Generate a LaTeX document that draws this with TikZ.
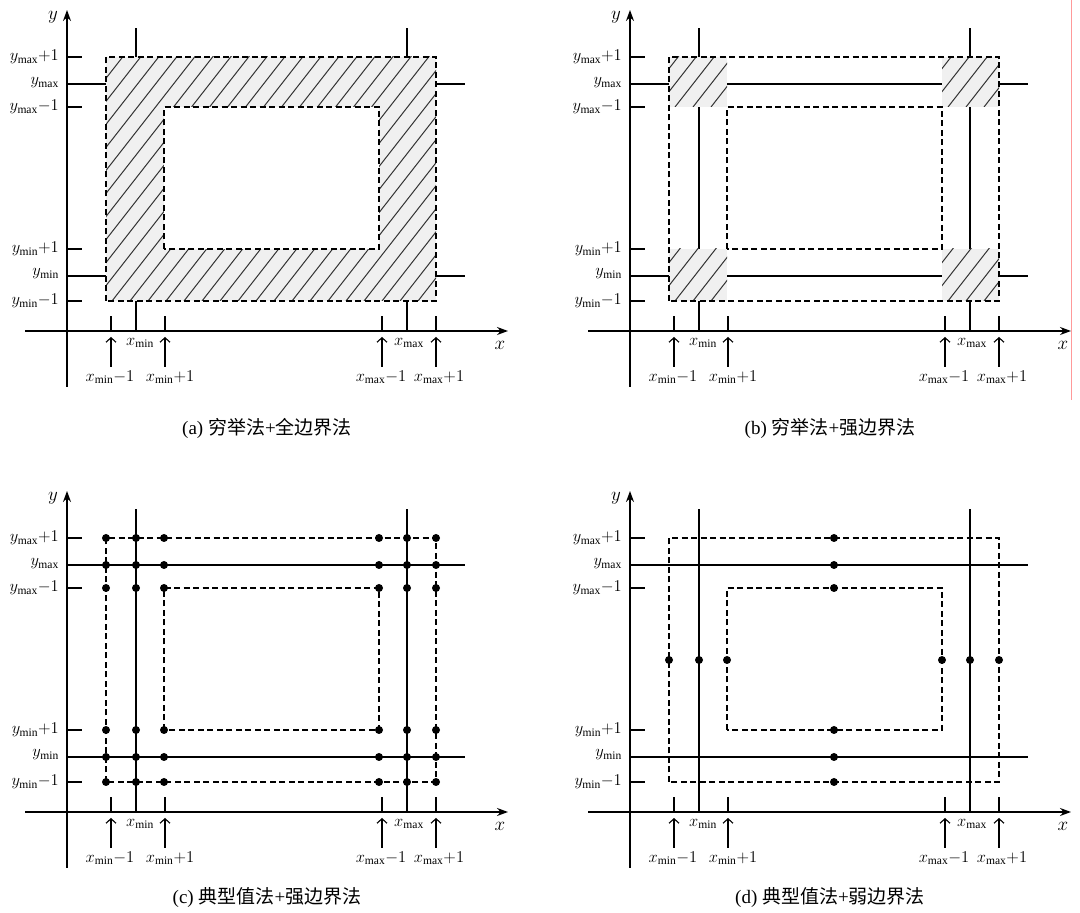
\RequirePackage{fix-cm}
\documentclass[tikz,border=0pt]{standalone}
\usepackage{fontspec}
\setmainfont{Liberation Serif}
\newfontfamily\cjk{Noto Sans CJK SC}
\usetikzlibrary{arrows.meta}

\tikzset{
	axis/.style={line width=1.3pt, -{Stealth[length=11pt,width=8pt]}},
	bline/.style={line width=1.2pt},
	dashbox/.style={line width=1.2pt, dash pattern=on 6pt off 3.5pt},
	upar/.style={line width=1.1pt, -{Straight Barb[length=4.5pt,width=10pt]}},
	dot/.style={circle, fill=black, inner sep=0pt, minimum size=8pt},
	lbl/.style={font=\fontsize{16.5}{18}\selectfont, inner sep=1pt},
	axlbl/.style={font=\fontsize{19}{21}\selectfont, inner sep=1pt},
	caption/.style={font=\fontsize{19}{22}\selectfont},
}

% hatched box: x1 y1 x2 y2
\newcommand{\hatchrect}[4]{%
	\fill[gray!12] (#1,#2) rectangle (#3,#4);
	\begin{scope}
		\clip (#1,#2) rectangle (#3,#4);
		\foreach \t in {-408,-390,...,400}
			\draw[line width=1pt, black!80] (#1+\t,#2) -- ++(52:600);
	\end{scope}}

% axes, ticks and labels of one panel: name, caption, caption height
\newcommand{\panelframe}[3]{%
	\draw[axis] (0,-56) -- (0,321);
	\draw[axis] (-42,0) -- (441,0);
	\node[axlbl] (#1-y) at (-14,314) {$y$};
	\node[axlbl] (#1-x) at (433,-14) {$x$};
	
	\foreach \py in {30,82,224,274}
		\draw[bline] (0,\py) -- (15,\py);
	\foreach \px in {44,98,315,369}{
		\draw[bline] (\px,0) -- (\px,15);
		\draw[upar] (\px,-36) -- (\px,-6);
	}
	
	\node[lbl, anchor=east] (#1-ymaxp) at (-7,274) {$y_{\max}{+}1$};
	\node[lbl, anchor=east] (#1-ymax) at (-7,248) {$y_{\max}$};
	\node[lbl, anchor=east] (#1-ymaxm) at (-7,224) {$y_{\max}{-}1$};
	\node[lbl, anchor=east] (#1-yminp) at (-7,82) {$y_{\min}{+}1$};
	\node[lbl, anchor=east] (#1-ymin) at (-7,57) {$y_{\min}$};
	\node[lbl, anchor=east] (#1-yminm) at (-7,30) {$y_{\min}{-}1$};
	
	\node[lbl] (#1-xmin) at (73,-12) {$x_{\min}$};
	\node[lbl] (#1-xmax) at (342,-12) {$x_{\max}$};
	\node[lbl] (#1-xminm) at (43,-46) {$x_{\min}{-}1$};
	\node[lbl] (#1-xminp) at (103,-46) {$x_{\min}{+}1$};
	\node[lbl] (#1-xmaxm) at (314,-46) {$x_{\max}{-}1$};
	\node[lbl] (#1-xmaxp) at (372,-46) {$x_{\max}{+}1$};
	
	\node[caption] (#1-cap) at (200,#3) {#2};}

\begin{document}
\begin{tikzpicture}[x=1pt,y=1pt]
	\useasboundingbox (0,0) rectangle (1080,913);
	
	% (a)
	\begin{scope}[shift={(67,582)}]
		\draw[bline] (0,247) -- (398,247);
		\draw[bline] (0,55) -- (398,55);
		\draw[bline] (69,0) -- (69,303);
		\draw[bline] (340,0) -- (340,303);
		\hatchrect{39}{30}{369}{274}
		\fill[white] (97,82) rectangle (312,224);
		\draw[dashbox] (39,30) rectangle (369,274);
		\draw[dashbox] (97,82) rectangle (312,224);
		\panelframe{a}{(a) {\cjk 穷举法}+{\cjk 全边界法}}{-97}
	\end{scope}
	
	% (b)
	\begin{scope}[shift={(630,582)}]
		\draw[bline] (0,247) -- (398,247);
		\draw[bline] (0,55) -- (398,55);
		\draw[bline] (69,0) -- (69,303);
		\draw[bline] (340,0) -- (340,303);
		\hatchrect{39}{224}{97}{274}
		\hatchrect{312}{224}{369}{274}
		\hatchrect{39}{30}{97}{82}
		\hatchrect{312}{30}{369}{82}
		\draw[dashbox] (39,30) rectangle (369,274);
		\draw[dashbox] (97,82) rectangle (312,224);
		\panelframe{b}{(b) {\cjk 穷举法}+{\cjk 强边界法}}{-97}
	\end{scope}
	\draw[red!40, line width=1pt] (1071,913) -- (1071,513);
	
	% (c)
	\begin{scope}[shift={(67,101)}]
		\draw[bline] (0,247) -- (398,247);
		\draw[bline] (0,55) -- (398,55);
		\draw[bline] (69,0) -- (69,303);
		\draw[bline] (340,0) -- (340,303);
		\draw[dashbox] (39,30) rectangle (369,274);
		\draw[dashbox] (97,82) rectangle (312,224);
		\foreach \px in {39,69,97,312,340,369}
			\foreach \py in {30,55,82,224,247,274}
				\node[dot] (c-\px-\py) at (\px,\py) {};
		\panelframe{c}{(c) {\cjk 典型值法}+{\cjk 强边界法}}{-86}
	\end{scope}
	
	% (d)
	\begin{scope}[shift={(630,101)}]
		\draw[bline] (0,247) -- (398,247);
		\draw[bline] (0,55) -- (398,55);
		\draw[bline] (69,0) -- (69,303);
		\draw[bline] (340,0) -- (340,303);
		\draw[dashbox] (39,30) rectangle (369,274);
		\draw[dashbox] (97,82) rectangle (312,224);
		\foreach \px in {39,69,97,312,340,369}
			\node[dot] (d-\px) at (\px,152) {};
		\foreach \py in {30,55,82,224,247,274}
			\node[dot] (d-m-\py) at (204,\py) {};
		\panelframe{d}{(d) {\cjk 典型值法}+{\cjk 弱边界法}}{-86}
	\end{scope}
\end{tikzpicture}
\end{document}
